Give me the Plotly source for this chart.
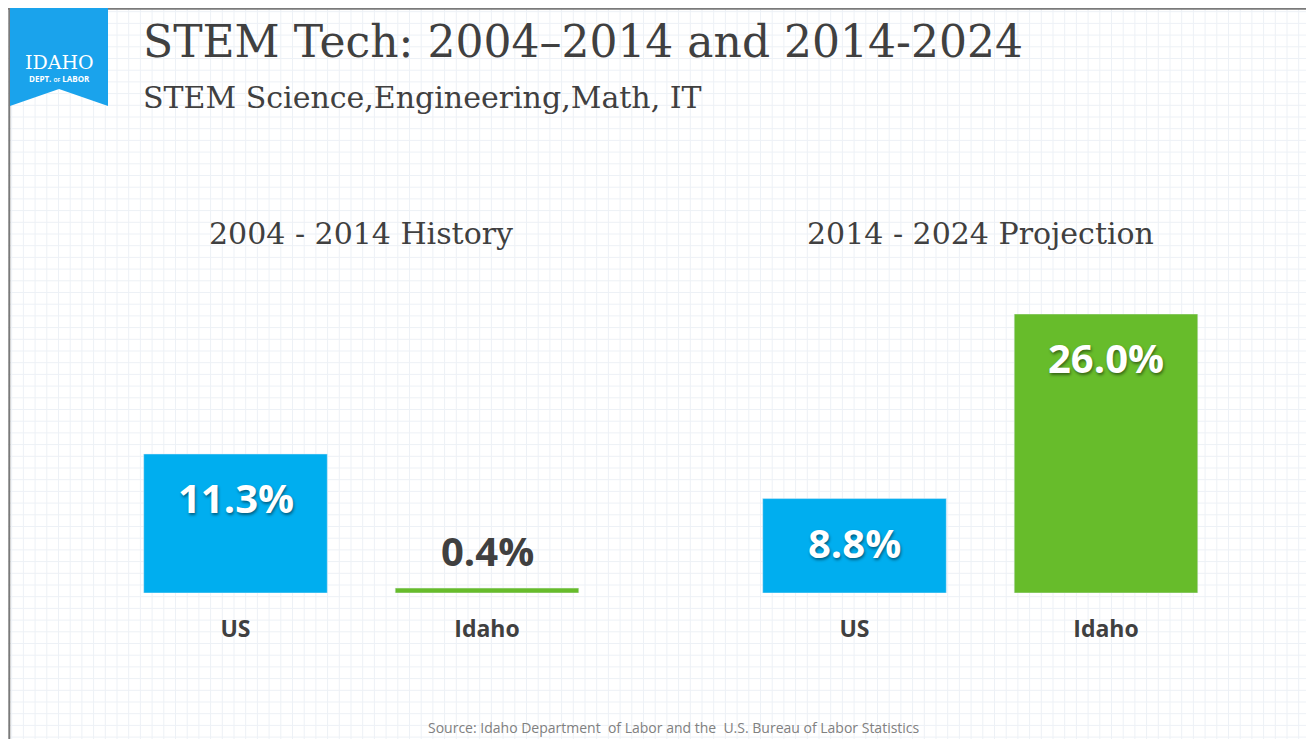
# plot.py
# STEM Tech growth: Idaho vs US, history and projection

import plotly.graph_objects as go

# the page body keeps its default 8px margin, so the figure is sized to fit inside it
PAGE_W, PAGE_H = 1314, 747
OFF = 8
W, H = PAGE_W - 2 * OFF, PAGE_H - 2 * OFF

categories = ['US', 'Idaho']
history = [11.3, 0.4]
projection = [8.8, 26.0]
panel_titles = ['2004 - 2014 History', '2014 - 2024 Projection']
bar_colors = ['#00AEEF', '#67BC2B']

title = 'STEM Tech: 2004\u20132014 and 2014-2024'
subtitle = 'STEM Science,Engineering,Math, IT'
source = 'Source: Idaho Department  of Labor and the  U.S. Bureau of Labor Statistics'

label_font = 'Open Sans, Lato, sans-serif'
slab_font = 'DejaVu Serif, serif'
dark = '#404040'


def px(x):
    # page pixel -> paper fraction
    return (x - OFF) / W


def py(y):
    return 1 - (y - OFF) / H


fig = go.Figure()
fig.add_trace(go.Bar(x=categories, y=history, marker_color=bar_colors, width=0.73,
                     xaxis='x', yaxis='y', hoverinfo='skip'))
fig.add_trace(go.Bar(x=categories, y=projection, marker_color=bar_colors, width=0.73,
                     xaxis='x2', yaxis='y2', hoverinfo='skip'))

# value labels, inside the bar when there is room, above it otherwise
annotations = []
for xa, ya, vals in [('x', 'y', history), ('x2', 'y2', projection)]:
    for cat, v in zip(categories, vals):
        inside = v > 5
        annotations.append(dict(
            x=cat, y=v, xref=xa, yref=ya, text=f'{v:.1f}%', showarrow=False,
            xanchor='center', yanchor='top' if inside else 'bottom',
            yshift=-14 if inside else 8,
            font=dict(family=label_font, size=40, weight='bold',
                      color='white' if inside else dark,
                      shadow='1px 2px 3px rgba(0,0,0,0.45)' if inside else 'none')))

x_domains = [[px(109.75), px(612.75)], [px(728.75), px(1231.75)]]
for dom, t in zip(x_domains, panel_titles):
    annotations.append(dict(x=(dom[0] + dom[1]) / 2, y=py(233), xref='paper', yref='paper',
                            text=t, showarrow=False, xanchor='center', yanchor='middle',
                            font=dict(family=slab_font, size=30, color=dark)))

annotations += [
    dict(x=px(141), y=py(41), xref='paper', yref='paper', text=title, showarrow=False,
         xanchor='left', yanchor='middle', font=dict(family=slab_font, size=44, color=dark)),
    dict(x=px(141), y=py(97), xref='paper', yref='paper', text=subtitle, showarrow=False,
         xanchor='left', yanchor='middle', font=dict(family=slab_font, size=30, color=dark)),
    dict(x=px(674), y=0, xref='paper', yref='paper', text=source, showarrow=False,
         xanchor='center', yanchor='bottom', font=dict(family=label_font, size=14, color='#808080')),
    # logo text
    dict(x=px(59), y=py(62), xref='paper', yref='paper', text='IDAHO', showarrow=False,
         xanchor='center', yanchor='middle',
         font=dict(family='DejaVu Serif, serif', size=19, color='white')),
    dict(x=px(59), y=py(78), xref='paper', yref='paper',
         text='DEPT. <span style="font-size:5px">OF</span> LABOR', showarrow=False,
         xanchor='center', yanchor='middle',
         font=dict(family=label_font, size=8, weight='bold', color='white')),
]

# graph-paper background, frame and logo banner
shapes = []
step = 11.7
x = 0.0
while x < PAGE_W:
    if OFF <= x <= PAGE_W - OFF:
        shapes.append(dict(type='line', xref='paper', yref='paper', x0=px(x), x1=px(x), y0=0, y1=1,
                           line=dict(color='#edf1f6', width=1), layer='below'))
    x += step
y = 0.0
while y < PAGE_H:
    if OFF <= y <= PAGE_H - OFF:
        shapes.append(dict(type='line', xref='paper', yref='paper', x0=0, x1=1, y0=py(y), y1=py(y),
                           line=dict(color='#edf1f6', width=1), layer='below'))
    y += step
shapes.append(dict(type='line', xref='paper', yref='paper', x0=0.001, x1=0.001, y0=0, y1=1,
                   line=dict(color='#7a7a7a', width=2)))
shapes.append(dict(type='line', xref='paper', yref='paper', x0=0, x1=1, y0=0.999, y1=0.999,
                   line=dict(color='#7a7a7a', width=2)))
logo = 'M {} {} L {} {} L {} {} L {} {} L {} {} Z'.format(
    px(10), py(8), px(108), py(8), px(108), py(106), px(59), py(89), px(10), py(106))
shapes.append(dict(type='path', xref='paper', yref='paper', path=logo,
                   fillcolor='#1AA3EC', line=dict(width=0)))

y_dom = [py(593), py(314)]
xaxis_common = dict(showgrid=False, zeroline=False, showline=False, ticks='', fixedrange=True,
                    range=[-0.5, 1.5], ticklabelstandoff=20,
                    tickfont=dict(family=label_font, size=23, weight='bold', color=dark))
yaxis_common = dict(showgrid=False, zeroline=False, showline=False, showticklabels=False,
                    fixedrange=True)

fig.update_layout(
    width=W, height=H,
    margin=dict(l=0, r=0, t=0, b=0),
    paper_bgcolor='white', plot_bgcolor='rgba(0,0,0,0)',
    showlegend=False,
    xaxis=dict(domain=x_domains[0], anchor='y', **xaxis_common),
    yaxis=dict(domain=y_dom, anchor='x', range=[0, 22.68], **yaxis_common),
    xaxis2=dict(domain=x_domains[1], anchor='y2', **xaxis_common),
    yaxis2=dict(domain=y_dom, anchor='x2', range=[0, 26.0], **yaxis_common),
    annotations=annotations,
    shapes=shapes,
)

fig.write_html('out.html')
